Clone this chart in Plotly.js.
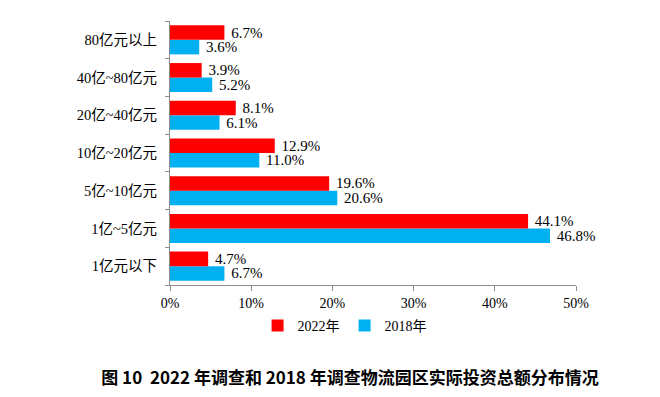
<!DOCTYPE html>
<html><head><meta charset="utf-8">
<script src="https://cdn.plot.ly/plotly-3.0.1.min.js"></script>
<style>html,body{margin:0;padding:0;background:#fff}</style>
</head><body>
<div id="chart" style="width:660px;height:397px"></div>
<script>
const categories = ['1亿元以下','1亿~5亿元','5亿~10亿元','10亿~20亿元','20亿~40亿元','40亿~80亿元','80亿元以上'];
const values2022 = [4.7, 44.1, 19.6, 12.9, 8.1, 3.9, 6.7];
const values2018 = [6.7, 46.8, 20.6, 11.0, 6.1, 5.2, 3.6];
const xTicks = [0, 10, 20, 30, 40, 50];
const xTickLabels = ['0%','10%','20%','30%','40%','50%'];
const titleText = '图 10  2022 年调查和 2018 年调查物流园区实际投资总额分布情况';

const serif = '"Liberation Serif", "Times New Roman", "Noto Sans CJK SC", serif';
const textFont = {family: serif, size: 15, color: '#000'};

const traces = [
  {type:'bar', orientation:'h', name:'2018年', y:categories, x:values2018,
   marker:{color:'#00B0F0'}, text:values2018.map(v=>'\u00a0'+v.toFixed(1)+'%'),
   textposition:'outside', textfont:textFont, constraintext:'none', cliponaxis:false,
   hoverinfo:'none', legendrank:2},
  {type:'bar', orientation:'h', name:'2022年', y:categories, x:values2022,
   marker:{color:'#FF0000'}, text:values2022.map(v=>'\u00a0'+v.toFixed(1)+'%'),
   textposition:'outside', textfont:textFont, constraintext:'none', cliponaxis:false,
   hoverinfo:'none', legendrank:1}
];

const layout = {
  width:660, height:397,
  margin:{l:170, r:84, t:21, b:112, pad:0},
  paper_bgcolor:'#fff', plot_bgcolor:'#fff',
  barmode:'group', bargap:0.23, bargroupgap:0,
  showlegend:true,
  legend:{orientation:'h', x:0.43, xanchor:'center', y:-0.155, yanchor:'middle',
          font:{family:serif, size:14, color:'#000'}, itemwidth:30, tracegroupgap:0},
  xaxis:{range:[0,50], tickvals:xTicks, ticktext:xTickLabels, showgrid:false, zeroline:false,
         showline:true, linecolor:'#8c8c8c', linewidth:1, ticks:'outside', ticklen:5,
         tickcolor:'#8c8c8c', tickfont:{family:serif, size:14, color:'#000'}},
  yaxis:{showgrid:false, zeroline:false, showline:true, linecolor:'#8c8c8c', linewidth:1,
         ticks:'outside', tickson:'boundaries', ticklen:4, tickcolor:'#8c8c8c',
         tickfont:{family:serif, size:14.5, color:'#000'}, ticklabelstandoff:9},
  title:{text:titleText, x:350/660, xanchor:'center', xref:'container', y:1-378/397, yanchor:'middle', yref:'container',
         font:{family:'"Noto Sans CJK SC", sans-serif', size:17, color:'#000', weight:'bold'}}
};

Plotly.newPlot('chart', traces, layout, {staticPlot:true, displayModeBar:false});
</script>
</body></html>
